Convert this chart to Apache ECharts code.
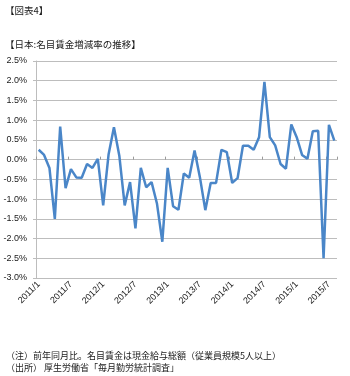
<!DOCTYPE html>
<html>
<head>
<meta charset="utf-8">
<script src="https://cdn.jsdelivr.net/npm/echarts@6/dist/echarts.min.js"></script>
<style>
  html, body { margin: 0; padding: 0; background: #ffffff; }
  #chart { width: 350px; height: 376px; }
</style>
</head>
<body>
<div id="chart"></div>
<script>
// Month labels, 2011/1 .. 2015/8
const months = [
  '2011/1','2011/2','2011/3','2011/4','2011/5','2011/6','2011/7','2011/8','2011/9','2011/10','2011/11','2011/12',
  '2012/1','2012/2','2012/3','2012/4','2012/5','2012/6','2012/7','2012/8','2012/9','2012/10','2012/11','2012/12',
  '2013/1','2013/2','2013/3','2013/4','2013/5','2013/6','2013/7','2013/8','2013/9','2013/10','2013/11','2013/12',
  '2014/1','2014/2','2014/3','2014/4','2014/5','2014/6','2014/7','2014/8','2014/9','2014/10','2014/11','2014/12',
  '2015/1','2015/2','2015/3','2015/4','2015/5','2015/6','2015/7','2015/8'
];

// Nominal wage, year-on-year change (%)
const wageChange = [
  0.25, 0.12, -0.21, -1.50, 0.84, -0.72, -0.24, -0.45, -0.46, -0.11, -0.21, 0.02,
  -1.16, 0.13, 0.82, 0.10, -1.16, -0.57, -1.74, -0.21, -0.70, -0.57, -1.11, -2.08,
  -0.21, -1.18, -1.27, -0.35, -0.46, 0.23, -0.45, -1.28, -0.59, -0.59, 0.25, 0.19,
  -0.59, -0.47, 0.35, 0.35, 0.25, 0.57, 1.97, 0.57, 0.36, -0.11, -0.23, 0.89,
  0.57, 0.12, 0.02, 0.72, 0.73, -2.50, 0.88, 0.48
];

const yMin = -3.0, yMax = 2.5, yStep = 0.5;

const figureLabel = '【図表4】';
const chartTitle = '【日本:名目賃金増減率の推移】';
const noteLine = '（注）前年同月比。名目賃金は現金給与総額（従業員規模5人以上）';
const sourceLine = '（出所） 厚生労働省「毎月勤労統計調査」';

const jpFont = '"Noto Sans CJK JP", "Noto Sans", sans-serif';
const numFont = '"Liberation Sans", Arial, sans-serif';

const chart = echarts.init(document.getElementById('chart'), null, { renderer: 'canvas' });

chart.setOption({
  animation: false,
  backgroundColor: '#ffffff',
  title: [
    { text: figureLabel, left: 0, top: 1, textStyle: { fontFamily: jpFont, fontSize: 9.5, fontWeight: 'normal', color: '#1a1a1a' } },
    { text: chartTitle, left: 0, top: 35, textStyle: { fontFamily: jpFont, fontSize: 9.5, fontWeight: 'normal', color: '#1a1a1a' } },
    { text: noteLine, left: 1, top: 346, textStyle: { fontFamily: jpFont, fontSize: 9, fontWeight: 'normal', color: '#1a1a1a' } },
    { text: sourceLine, left: 1, top: 358, textStyle: { fontFamily: jpFont, fontSize: 9, fontWeight: 'normal', color: '#1a1a1a' } }
  ],
  grid: { left: 36, right: 13, top: 61, bottom: 98, containLabel: false },
  xAxis: [
    {
      type: 'category',
      data: months,
      boundaryGap: true,
      axisLine: { show: false, onZero: false },
      axisTick: { show: false },
      axisLabel: {
        interval: 5,
        rotate: 45,
        fontFamily: numFont,
        fontSize: 9,
        color: '#1a1a1a',
        margin: 5
      }
    },
    {
      type: 'category',
      data: months,
      boundaryGap: true,
      position: 'bottom',
      axisLine: { show: true, onZero: true, lineStyle: { color: '#bdbdbd', width: 1 } },
      axisTick: { show: true, interval: 5, inside: true, length: 3, lineStyle: { color: '#9a9a9a' } },
      axisLabel: { show: false }
    }
  ],
  yAxis: {
    type: 'value',
    min: yMin,
    max: yMax,
    interval: yStep,
    axisLine: { show: true, lineStyle: { color: '#bdbdbd' } },
    axisTick: { show: true, length: 3, lineStyle: { color: '#bdbdbd' } },
    splitLine: { show: true, lineStyle: { color: '#bdbdbd', width: 1 } },
    axisLabel: {
      formatter: v => v.toFixed(1) + '%',
      fontFamily: numFont,
      fontSize: 9,
      color: '#1a1a1a',
      margin: 9
    }
  },
  series: [
    {
      type: 'line',
      xAxisIndex: 0,
      data: wageChange,
      symbol: 'none',
      lineStyle: { color: '#4a86c8', width: 2.5 },
      itemStyle: { color: '#4a86c8' }
    }
  ]
});
</script>
</body>
</html>
